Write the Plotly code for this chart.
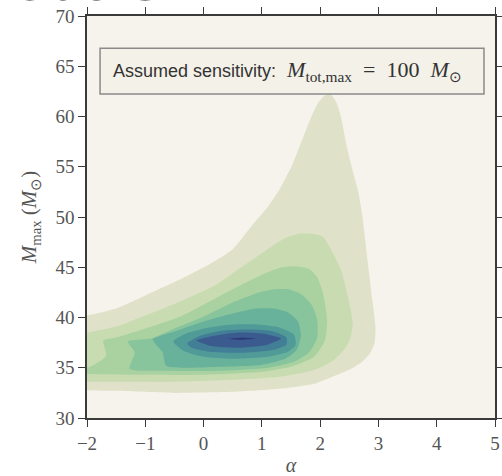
import plotly.graph_objects as go

# ---- data (alpha, M_max boundaries of filled density levels) ----
L1_alpha = [-2.2, -2.0, -1.5, -1.0, -0.4, 0.1, 0.5, 0.85, 1.1, 1.3, 1.53, 1.7, 1.85, 1.97, 2.08, 2.18, 2.28,
            2.36, 2.45, 2.55, 2.65, 2.72, 2.82, 2.9, 2.95, 2.93, 2.85, 2.7, 2.5, 2.25, 1.9, 1.3, 0.5, -0.5, -1.5, -2.2]
L1_mmax = [40.1, 40.2, 40.9, 42.2, 43.8, 45.3, 46.8, 49.3, 51.0, 52.7, 55.3, 57.8, 60.0, 61.4, 62.1, 62.2, 61.4,
           59.9, 57.2, 54.8, 52.6, 50.3, 45.4, 41.5, 39.0, 37.4, 36.4, 35.5, 34.8, 34.2, 33.4, 32.9, 32.6, 32.5, 32.7, 32.8]

L2_alpha = [-2.2, -2.0, -1.5, -1.0, -0.4, 0.2, 0.62, 1.05, 1.4, 1.65, 1.9, 2.05, 2.22, 2.36, 2.48, 2.56,
            2.52, 2.45, 2.22, 1.88, 1.31, 0.5, -0.5, -1.5, -2.2]
L2_mmax = [38.4, 38.5, 39.1, 40.2, 41.6, 43.2, 44.9, 46.6, 47.9, 48.35, 48.3, 48.0, 46.4, 44.7, 42.0, 39.4,
           38.0, 37.1, 35.7, 34.75, 34.1, 33.8, 33.6, 33.6, 33.6]

L3_alpha = [-2.2, -1.95, -1.67, -1.72, -1.5, -1.0, -0.4, 0.2, 0.7, 1.1, 1.35, 1.6, 1.82, 1.95, 2.05, 2.12,
            2.08, 1.9, 1.5, 1.0, 0.0, -1.0, -2.2]
L3_mmax = [34.8, 35.1, 36.2, 37.7, 38.0, 38.9, 40.1, 41.9, 43.4, 44.5, 45.0, 45.1, 44.8, 44.0, 42.4, 39.7,
           37.7, 36.1, 35.1, 34.6, 34.3, 34.3, 34.4]

L4_alpha = [-1.27, -1.18, -1.30, -0.9, -0.5, 0.0, 0.5, 0.9, 1.2, 1.45, 1.68, 1.85, 1.95, 1.95, 1.82, 1.55,
            1.1, 0.3, -0.6, -1.27]
L4_mmax = [34.9, 36.5, 37.6, 37.9, 38.9, 40.1, 41.5, 42.4, 42.8, 42.8, 42.3, 41.3, 39.8, 38.0, 36.6, 35.6,
           35.0, 34.7, 34.7, 34.9]

L5_alpha = [-0.64, -0.70, -0.87, -0.5, 0.0, 0.5, 0.9, 1.2, 1.45, 1.62, 1.67, 1.6, 1.4, 1.0, 0.3, -0.64]
L5_mmax = [35.2, 36.5, 37.8, 38.6, 39.6, 40.4, 40.9, 40.9, 40.5, 39.6, 38.2, 36.8, 35.9, 35.3, 35.1, 35.2]

L6_alpha = [-0.52, -0.3, 0.1, 0.5, 0.95, 1.3, 1.55, 1.58, 1.45, 1.1, 0.5, 0.0, -0.35, -0.52]
L6_mmax = [37.6, 38.4, 39.0, 39.3, 39.3, 39.0, 38.3, 37.3, 36.6, 36.1, 35.9, 36.1, 36.7, 37.6]

L7_alpha = [-0.28, -0.05, 0.35, 0.85, 1.2, 1.42, 1.42, 1.2, 0.7, 0.1, -0.2, -0.28]
L7_mmax = [37.4, 38.2, 38.7, 38.8, 38.6, 38.0, 37.3, 36.8, 36.5, 36.6, 37.0, 37.4]

L8_alpha = [-0.12, 0.2, 0.6, 1.0, 1.33, 1.1, 0.6, 0.1, -0.12]
L8_mmax = [37.7, 38.2, 38.5, 38.4, 37.9, 37.3, 37.0, 37.2, 37.7]

L9_alpha = [0.42, 0.65, 0.9, 0.65, 0.42]
L9_mmax = [37.86, 37.98, 37.9, 37.78, 37.86]

level_colors = ["#dfe2c9", "#c9dcb1", "#a9d2a0", "#88c49c", "#68b19a", "#509a98", "#427e96", "#3b5b8e", "#2c3775"]

x_ticks = [-2, -1, 0, 1, 2, 3, 4, 5]
y_ticks = [30, 35, 40, 45, 50, 55, 60, 65, 70]

levels = [(L1_alpha, L1_mmax), (L2_alpha, L2_mmax), (L3_alpha, L3_mmax), (L4_alpha, L4_mmax),
          (L5_alpha, L5_mmax), (L6_alpha, L6_mmax), (L7_alpha, L7_mmax), (L8_alpha, L8_mmax),
          (L9_alpha, L9_mmax)]

fig = go.Figure()
for (ax, my), col in zip(levels, level_colors):
    fig.add_trace(go.Scatter(x=ax, y=my, mode="lines", fill="toself", fillcolor=col,
                             line=dict(width=0, color=col, shape="spline", smoothing=0.6),
                             hoverinfo="skip", showlegend=False))

tick_font = dict(family="Liberation Serif", size=19, color="#555555")
axis_common = dict(showgrid=False, zeroline=False, showline=True, linecolor="#3a3a3a", linewidth=1.5,
                   mirror="ticks", ticks="outside", ticklen=7, tickwidth=1.3, tickcolor="#3a3a3a",
                   tickfont=tick_font, automargin=False)

fig.update_layout(
    width=502, height=476,
    margin=dict(l=87, r=7, t=16, b=58),
    paper_bgcolor="white",
    plot_bgcolor="#f6f3ec",
    xaxis=dict(range=[-2, 5], tickvals=x_ticks, **axis_common,
               title=dict(text="<i>α</i>", font=dict(family="Liberation Serif", size=20, color="#555555"),
                          standoff=8)),
    yaxis=dict(range=[30, 70], tickvals=y_ticks, **axis_common,
               title=dict(text="<i>M</i><sub>max</sub> (<i>M</i><sub>⊙</sub>)",
                          font=dict(family="Liberation Serif", size=21, color="#555555"),
                          standoff=13)),
)

# legend-like box with the assumed sensitivity
fig.add_shape(type="rect", xref="paper", yref="paper", x0=0.032, x1=0.973, y0=0.806, y1=0.920,
              line=dict(color="#8a8a8a", width=1.5), fillcolor="#f4f1e9", layer="above")
fig.add_annotation(xref="paper", yref="paper", x=0.06, y=0.863, xanchor="left", yanchor="middle",
                   showarrow=False,
                   text="<span style='font-family:Liberation Sans;font-size:18px'>Assumed sensitivity:</span>  "
                        "<i>M</i><sub>tot,max</sub>  =  100  <i>M</i><sub>⊙</sub>",
                   font=dict(family="Liberation Serif", size=22, color="#333333"))

# clipped slide heading at the very top
fig.add_annotation(xref="paper", yref="paper", x=-0.20, y=1.0, xanchor="left", yanchor="bottom",
                   showarrow=False, yshift=2, text="<b>Cut-On</b>",
                   font=dict(family="Liberation Sans", size=58, color="black"))

fig.write_html("out.html", config={"displayModeBar": False},
               post_script="document.body.style.margin='0px';")
